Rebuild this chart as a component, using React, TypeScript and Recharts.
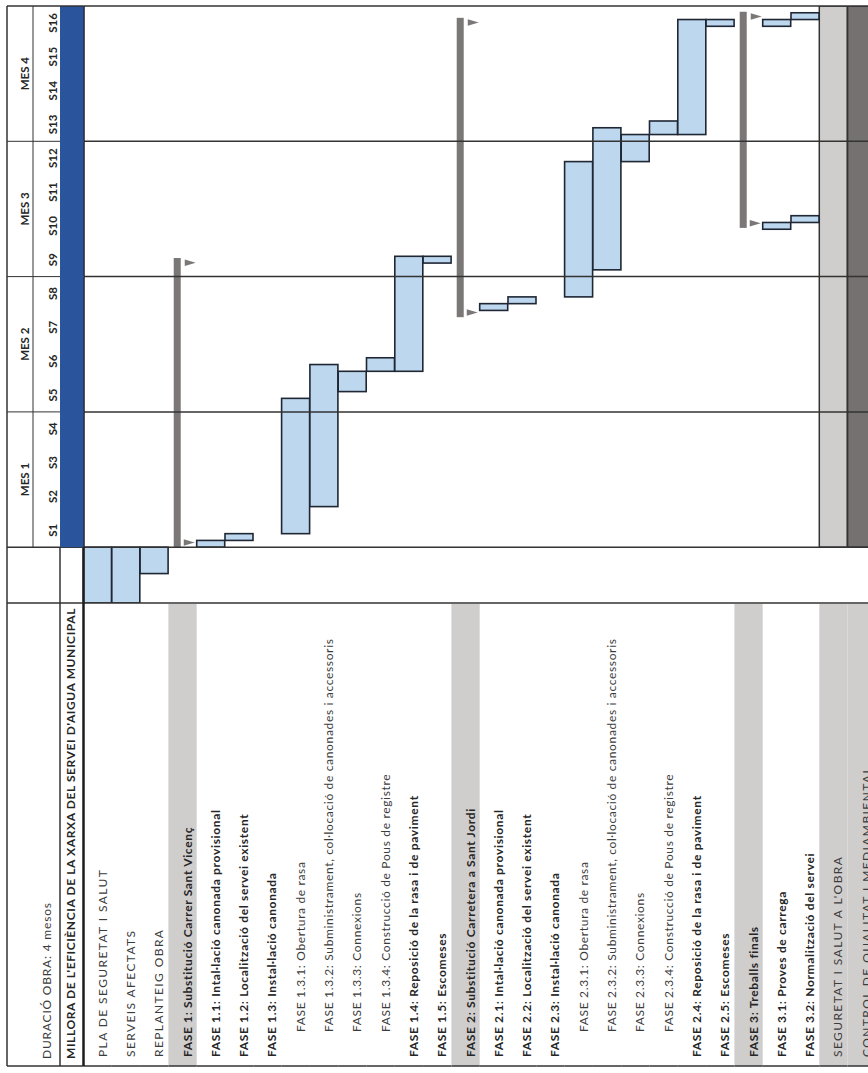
import React from 'react';
import { BarChart, Bar, XAxis, YAxis, ReferenceLine } from 'recharts';

// ---------------- data ----------------
const durationLabel = 'DURACIÓ OBRA: 4 mesos';
const projectTitle = "MILLORA DE L'EFICIÈNCIA DE LA XARXA DEL SERVEI D'AIGUA MUNICIPAL";

const monthLabels = ['MES 1', 'MES 2', 'MES 3', 'MES 4'];
const weekLabels = ['S1', 'S2', 'S3', 'S4', 'S5', 'S6', 'S7', 'S8', 'S9', 'S10', 'S11', 'S12', 'S13', 'S14', 'S15', 'S16'];

const taskLabels = [
  'PLA DE SEGURETAT I SALUT',
  'SERVEIS AFECTATS',
  'REPLANTEIG OBRA',
  'FASE 1: Substitució Carrer Sant Vicenç',
  'FASE 1.1: Intal·lació canonada provisional',
  'FASE 1.2: Localització del servei existent',
  'FASE 1.3: Instal·lació canonada',
  'FASE 1.3.1: Obertura de rasa',
  'FASE 1.3.2: Subministrament, col·locació de canonades i accessoris',
  'FASE 1.3.3: Connexions',
  'FASE 1.3.4: Construcció de Pous de registre',
  'FASE 1.4: Reposició de la rasa i de paviment',
  'FASE 1.5: Escomeses',
  'FASE 2: Substitució Carretera a Sant Jordi',
  'FASE 2.1: Intal·lació canonada provisional',
  'FASE 2.2: Localització del servei existent',
  'FASE 2.3: Instal·lació canonada',
  'FASE 2.3.1: Obertura de rasa',
  'FASE 2.3.2: Subministrament, col·locació de canonades i accessoris',
  'FASE 2.3.3: Connexions',
  'FASE 2.3.4: Construcció de Pous de registre',
  'FASE 2.4: Reposició de la rasa i de paviment',
  'FASE 2.5: Escomeses',
  'FASE 3: Treballs finals',
  'FASE 3.1: Proves de carrega',
  'FASE 3.2: Normalització del servei',
  "SEGURETAT I SALUT A L'OBRA",
  'CONTROL DE QUALITAT I MEDIAMBIENTAL',
];

const taskKind = [
  'plain', 'plain', 'plain',
  'phase', 'bold', 'bold', 'bold', 'sub', 'sub', 'sub', 'sub', 'bold', 'bold',
  'phase', 'bold', 'bold', 'bold', 'sub', 'sub', 'sub', 'sub', 'bold', 'bold',
  'phase', 'bold', 'bold',
  'global', 'global',
];

// weeks (pre-works column is negative)
const taskStart = [-1.65, -1.65, -0.78, null, 0, 0.2, null, 0.4, 1.2, 4.6, 5.2, 5.2, 8.4, null, 7.0, 7.2, null, 7.4, 8.2, 11.4, 12.2, 12.2, 15.4, null, 9.4, 9.6, null, null];
const taskEnd = [0, 0, 0, null, 0.2, 0.4, null, 4.4, 5.4, 5.2, 5.6, 8.6, 8.6, null, 7.2, 7.4, null, 11.4, 12.4, 12.2, 12.6, 15.6, 15.6, null, 9.6, 9.8, null, null];
const repeatStart = [null, null, null, null, null, null, null, null, null, null, null, null, null, null, null, null, null, null, null, null, null, null, null, null, 15.4, 15.6, null, null];
const repeatEnd = [null, null, null, null, null, null, null, null, null, null, null, null, null, null, null, null, null, null, null, null, null, null, null, null, 15.6, 15.8, null, null];
const phaseStart = [null, null, null, 0, null, null, null, null, null, null, null, null, null, 6.8, null, null, null, null, null, null, null, null, null, 9.44, null, null, null, null];
const phaseEnd = [null, null, null, 8.55, null, null, null, null, null, null, null, null, null, 15.65, null, null, null, null, null, null, null, null, null, 15.83, null, null, null, null];
const spanStart = [null, null, null, null, null, null, null, null, null, null, null, null, null, null, null, null, null, null, null, null, null, null, null, null, null, null, 0, 0];
const spanEnd = [null, null, null, null, null, null, null, null, null, null, null, null, null, null, null, null, null, null, null, null, null, null, null, null, null, null, 16, 16];

const TOTAL_WEEKS = 16;
const PRE_WEEKS = 1.65;

const rows = taskLabels.map((label, i) => ({
  label,
  kind: taskKind[i],
  task: taskStart[i] == null ? null : [taskStart[i], taskEnd[i]],
  repeat: repeatStart[i] == null ? null : [repeatStart[i], repeatEnd[i]],
  phase: phaseStart[i] == null ? null : [phaseStart[i], phaseEnd[i]],
  span: spanStart[i] == null ? null : [spanStart[i], spanEnd[i]],
}));

// ---------------- layout / style ----------------
const CHART_W = 880;
const CHART_H = 1073;
const PLOT_TOP = 6;
const PLOT_BOTTOM = 603;
const TABLE_BOTTOM = 1066;
const X_LEFT = 7;
const X_S = 33;
const X_MILLORA = 60;
const X_PLOT = 83.5;
const PLOT_RIGHT = 875.9;
const BAND = (PLOT_RIGHT - X_PLOT) / taskLabels.length;
const WEEK_PX = (PLOT_BOTTOM - PLOT_TOP) / (TOTAL_WEEKS + PRE_WEEKS);

const FONT = 'Lato, "Open Sans", "DejaVu Sans", sans-serif';
const LINE = '#333333';
const DARK = '#1c1c1c';
const TXT = '#262626';
const TXT_LIGHT = '#3c3c3c';
const BAR_FILL = '#bdd7ee';
const BAR_STROKE = '#1e2733';
const PHASE_GRAY = '#7b7777';
const BLUE = '#2a549c';
const LIGHT_GRAY = '#d0cdcd';
const DARK_GRAY = '#767171';

const weekCenters = weekLabels.map((_, i) => i + 0.5);
const monthCenters = monthLabels.map((_, i) => i * 4 + 2);
const monthBounds = [0, 4, 8, 12, 16];
const yTicks = [-PRE_WEEKS, ...monthBounds, ...weekCenters, ...monthCenters].sort((a, b) => a - b);

// ---------------- ticks ----------------
function HeaderTick(props: any) {
  const { y, payload } = props;
  const v = payload.value as number;
  if (v === -PRE_WEEKS) {
    return (
      <g>
        <line x1={X_LEFT} x2={X_PLOT} y1={y} y2={y} stroke={LINE} strokeWidth={1.5} />
        <line x1={X_LEFT} x2={X_PLOT} y1={TABLE_BOTTOM} y2={TABLE_BOTTOM} stroke={LINE} strokeWidth={1.5} />
        <line x1={X_PLOT} x2={X_PLOT} y1={y} y2={TABLE_BOTTOM} stroke={DARK} strokeWidth={2.5} />
        <text transform={`translate(${51},${TABLE_BOTTOM - 7}) rotate(-90)`} fontSize={12} letterSpacing={0.8} fill={TXT_LIGHT} fontFamily={FONT}>
          {durationLabel}
        </text>
        <text transform={`translate(${75},${TABLE_BOTTOM - 7}) rotate(-90)`} fontSize={12} letterSpacing={0.6} fontWeight={700} fill={TXT} fontFamily={FONT}>
          {projectTitle}
        </text>
      </g>
    );
  }
  if (v === TOTAL_WEEKS) {
    const h = TOTAL_WEEKS * WEEK_PX;
    return (
      <g>
        <rect x={X_MILLORA} y={y} width={X_PLOT - X_MILLORA} height={h} fill={BLUE} />
        <line x1={X_S} x2={X_S} y1={y} y2={y + h} stroke={LINE} strokeWidth={1} />
        <line x1={X_LEFT} x2={X_PLOT} y1={y} y2={y} stroke={LINE} strokeWidth={1.5} />
        <line x1={X_LEFT} x2={X_LEFT} y1={y} y2={TABLE_BOTTOM} stroke={LINE} strokeWidth={1.5} />
        <line x1={X_MILLORA} x2={X_MILLORA} y1={y + h} y2={TABLE_BOTTOM} stroke={LINE} strokeWidth={1.5} />
      </g>
    );
  }
  if (v === 0) {
    return <line x1={X_LEFT} x2={X_PLOT} y1={y} y2={y} stroke={LINE} strokeWidth={1.5} />;
  }
  if (Math.abs(v % 1 - 0.5) < 1e-9) {
    return (
      <text transform={`translate(${57},${y}) rotate(-90)`} textAnchor="middle" fontSize={11.5} fontWeight={700} fill={TXT} fontFamily={FONT}>
        {weekLabels[Math.floor(v)]}
      </text>
    );
  }
  if (v % 4 === 2) {
    return (
      <text transform={`translate(${29},${y}) rotate(-90)`} textAnchor="middle" fontSize={11.5} fontWeight={700} fill={TXT} fontFamily={FONT}>
        {monthLabels[(v - 2) / 4]}
      </text>
    );
  }
  if (v % 4 === 0) {
    return (
      <g>
        <line x1={X_LEFT} x2={X_MILLORA} y1={y} y2={y} stroke={LINE} strokeWidth={1} />
        <line x1={X_MILLORA} x2={X_PLOT} y1={y} y2={y} stroke="#8a8f99" strokeWidth={1} />
      </g>
    );
  }
  return <g />;
}

function LabelTick(props: any) {
  const { x, payload } = props;
  const i = taskLabels.indexOf(payload.value);
  const kind = taskKind[i];
  const half = BAND / 2;
  const shaded = kind === 'phase' || kind === 'global';
  const bold = kind === 'phase' || kind === 'bold';
  const caps = kind === 'plain' || kind === 'global';
  const indent = kind === 'sub' ? 25 : 0;
  return (
    <g>
      {shaded && (
        <rect x={x - half} y={PLOT_BOTTOM + 1} width={BAND} height={TABLE_BOTTOM - PLOT_BOTTOM - 1} fill={LIGHT_GRAY} />
      )}
      <line x1={x - half} x2={x + half} y1={TABLE_BOTTOM} y2={TABLE_BOTTOM} stroke={LINE} strokeWidth={1.5} />
      <text
        transform={`translate(${x + 9},${TABLE_BOTTOM - 9 - indent}) rotate(-90)`}
        fontSize={12}
        letterSpacing={caps ? 1.4 : 0.66}
        fontWeight={bold ? 700 : 400}
        fill={bold ? TXT : TXT_LIGHT}
        fontFamily={FONT}
      >
        {payload.value}
      </text>
    </g>
  );
}

// ---------------- shapes ----------------
function norm(p: any) {
  const top = Math.min(p.y, p.y + p.height);
  const h = Math.abs(p.height);
  return { top, h };
}

const TaskShape = (key: string) => (p: any) => {
  if (!p.payload || p.payload[key] == null) return <g />;
  const { top, h } = norm(p);
  return <rect x={p.x} y={top} width={p.width} height={h} fill={BAR_FILL} stroke={BAR_STROKE} strokeWidth={1.6} />;
};

const PhaseShape = (p: any) => {
  if (!p.payload || p.payload.phase == null) return <g />;
  const { top, h } = norm(p);
  const bottom = top + h;
  const bx = p.x + p.width * 0.19;
  return (
    <g fill={PHASE_GRAY}>
      <rect x={bx} y={top} width={7} height={h} />
      <polygon points={`${bx + 11},${top + 1.5} ${bx + 11},${top + 8} ${bx + 22},${top + 4.75}`} />
      <polygon points={`${bx + 10},${bottom - 8} ${bx + 10},${bottom - 1.5} ${bx + 21},${bottom - 4.75}`} />
    </g>
  );
};

const SpanShape = (p: any) => {
  if (!p.payload || p.payload.span == null) return <g />;
  const { top, h } = norm(p);
  const fill = p.payload.label.startsWith('CONTROL') ? DARK_GRAY : LIGHT_GRAY;
  return <rect x={p.x} y={top} width={p.width} height={h} fill={fill} stroke={LINE} strokeWidth={1.5} />;
};

export default function App() {
  return (
    <div style={{ position: 'absolute', left: 0, top: 0, width: 868, height: 1073, overflow: 'hidden', background: '#ffffff' }}>
      <BarChart
        width={CHART_W}
        height={CHART_H}
        data={rows}
        margin={{ top: PLOT_TOP, right: CHART_W - PLOT_RIGHT, left: X_LEFT, bottom: 0 }}
        barCategoryGap={0}
        barGap={0}
      >
        <XAxis
          xAxisId="main"
          dataKey="label"
          type="category"
          interval={0}
          height={CHART_H - PLOT_BOTTOM}
          tickLine={false}
          axisLine={{ stroke: LINE, strokeWidth: 1.5 }}
          tick={(p: any) => <LabelTick {...p} />}
        />
        <XAxis xAxisId="rep" dataKey="label" type="category" hide />
        <XAxis xAxisId="phase" dataKey="label" type="category" hide />
        <XAxis xAxisId="span" dataKey="label" type="category" hide />
        <YAxis
          yAxisId="w"
          type="number"
          domain={[-PRE_WEEKS, TOTAL_WEEKS]}
          allowDataOverflow
          ticks={yTicks}
          interval={0}
          width={X_PLOT - X_LEFT}
          tickLine={false}
          axisLine={{ stroke: DARK, strokeWidth: 2.5 }}
          tick={(p: any) => <HeaderTick {...p} />}
        />
        {monthBounds.map((m) => (
          <ReferenceLine key={m} xAxisId="main" yAxisId="w" y={m} stroke={LINE} strokeWidth={1.5} />
        ))}
        <Bar xAxisId="span" yAxisId="w" dataKey="span" isAnimationActive={false} shape={SpanShape} />
        <Bar xAxisId="phase" yAxisId="w" dataKey="phase" isAnimationActive={false} shape={PhaseShape} />
        <Bar xAxisId="main" yAxisId="w" dataKey="task" isAnimationActive={false} shape={TaskShape('task')} />
        <Bar xAxisId="rep" yAxisId="w" dataKey="repeat" isAnimationActive={false} shape={TaskShape('repeat')} />
      </BarChart>
    </div>
  );
}
